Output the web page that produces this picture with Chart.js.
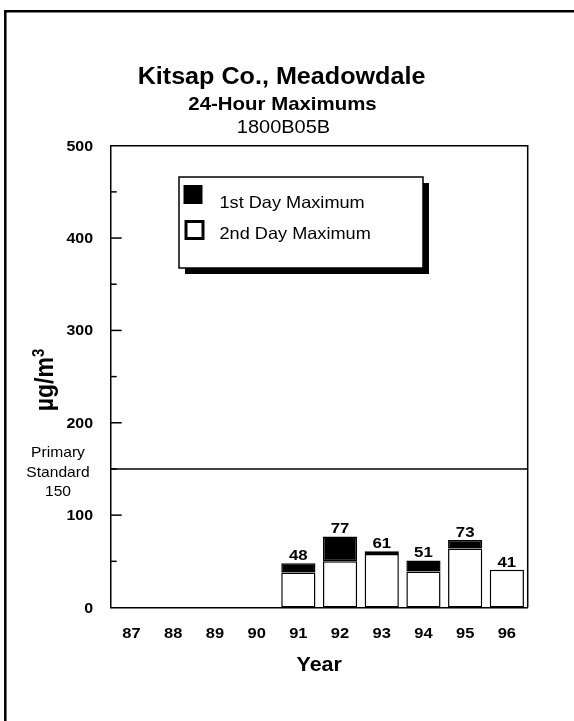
<!DOCTYPE html>
<html>
<head>
<meta charset="utf-8">
<script src="https://cdn.jsdelivr.net/npm/chart.js@4"></script>
<style>
  body { margin: 0; background: #fff; }
  canvas { display: block; }
</style>
</head>
<body>
<canvas id="chart" width="574" height="721"></canvas>
<script>
// dữ liệu
const years = ["87", "88", "89", "90", "91", "92", "93", "94", "95", "96"];
const firstMax = [null, null, null, null, 48, 77, 61, 51, 73, 41];
const secondMax = [null, null, null, null, 38, 50, 58, 39, 64, 41];
const yTicks = [0, 100, 200, 300, 400, 500];
const primaryStandard = 150;

const FONT = "'Liberation Sans', Arial, sans-serif";
const SX = 1.1; // chữ trong bản gốc hơi giãn ngang

// thanh đen: từ giá trị ngày 2 lên giá trị ngày 1
const firstBars = firstMax.map((v, i) => v == null ? null : [secondMax[i], v]);

// vẽ chữ kéo giãn ngang
function wideText(ctx, text, x, y, font, align, baseline, sx) {
  ctx.save();
  ctx.font = font;
  ctx.textAlign = align;
  ctx.textBaseline = baseline;
  ctx.translate(x, y);
  ctx.scale(sx || SX, 1);
  ctx.fillText(text, 0, 0);
  ctx.restore();
}

const decorPlugin = {
  id: "decor",
  beforeDraw(chart) {
    const ctx = chart.ctx;
    ctx.save();
    ctx.strokeStyle = "#000";
    ctx.lineWidth = 2.5;
    ctx.beginPath();
    ctx.moveTo(5.3, 721);
    ctx.lineTo(5.3, 11.2);
    ctx.lineTo(574, 11.2);
    ctx.stroke();
    ctx.restore();
  },
  afterDraw(chart) {
    const ctx = chart.ctx;
    const area = chart.chartArea;
    const x = chart.scales.x;
    const y = chart.scales.y;
    ctx.save();
    ctx.fillStyle = "#000";

    // tiêu đề
    wideText(ctx, "Kitsap Co., Meadowdale", 281.5, 84.3, "bold 23px " + FONT, "center", "alphabetic", 1.093);
    wideText(ctx, "24-Hour Maximums", 282.5, 110, "bold 18.5px " + FONT, "center", "alphabetic", 1.104);
    wideText(ctx, "1800B05B", 283.5, 132.5, "18px " + FONT, "center", "alphabetic", 1.11);

    // khung vùng vẽ (trên + phải)
    ctx.strokeStyle = "#000";
    ctx.lineWidth = 1.5;
    ctx.beginPath();
    ctx.moveTo(area.left, area.top);
    ctx.lineTo(area.right, area.top);
    ctx.lineTo(area.right, area.bottom);
    ctx.stroke();

    // vạch chia hướng vào trong + nhãn trục y
    y.ticks.forEach((t, i) => {
      const py = y.getPixelForTick(i);
      if (t.value > 0 && t.value < 500) {
        const len = t.value % 100 === 0 ? 11 : 6;
        ctx.beginPath();
        ctx.moveTo(area.left, py);
        ctx.lineTo(area.left + len, py);
        ctx.stroke();
      }
      if (yTicks.includes(t.value)) {
        wideText(ctx, String(t.value), 93, py + 1, "bold 14.5px " + FONT, "right", "middle");
      }
    });

    // nhãn trục x
    x.ticks.forEach((t, i) => {
      wideText(ctx, years[i], x.getPixelForTick(i), 633.5, "bold 15px " + FONT, "center", "middle");
    });
    wideText(ctx, "Year", (area.left + area.right) / 2, 665.5, "bold 19.5px " + FONT, "center", "middle");

    // tiêu đề trục y (xoay)
    ctx.save();
    ctx.translate(52.5, 380);
    ctx.rotate(-Math.PI / 2);
    ctx.scale(1, 1.1);
    ctx.font = "bold 23px " + FONT;
    ctx.textBaseline = "alphabetic";
    ctx.textAlign = "left";
    const w1 = ctx.measureText("µg/m").width;
    ctx.font = "bold 15px " + FONT;
    const w2 = ctx.measureText("3").width;
    const sx0 = -(w1 + w2) / 2;
    ctx.font = "bold 23px " + FONT;
    ctx.fillText("µg/m", sx0, 0);
    ctx.font = "bold 15px " + FONT;
    ctx.fillText("3", sx0 + w1, -8);
    ctx.restore();

    // đường tiêu chuẩn
    const sy = y.getPixelForValue(primaryStandard);
    ctx.beginPath();
    ctx.moveTo(area.left, sy);
    ctx.lineTo(area.right, sy);
    ctx.stroke();
    wideText(ctx, "Primary", 58, sy - 16, "14.2px " + FONT, "center", "middle");
    wideText(ctx, "Standard", 58, sy + 4, "14.2px " + FONT, "center", "middle");
    wideText(ctx, String(primaryStandard), 58, sy + 23, "14.2px " + FONT, "center", "middle");

    // nhãn giá trị trên cột
    const meta = chart.getDatasetMeta(0);
    meta.data.forEach((bar, i) => {
      if (firstMax[i] == null) return;
      wideText(ctx, String(firstMax[i]), bar.x, bar.y - 3, "bold 15.3px " + FONT, "center", "alphabetic");
    });

    // chú thích
    const lx = 179, ly = 177, lw = 244, lh = 91;
    ctx.fillStyle = "#000";
    ctx.fillRect(lx + 6, ly + 6, lw, lh);
    ctx.fillStyle = "#fff";
    ctx.fillRect(lx, ly, lw, lh);
    ctx.lineWidth = 1.5;
    ctx.strokeRect(lx, ly, lw, lh);
    ctx.fillStyle = "#000";
    ctx.fillRect(183.5, 185, 19, 19);
    ctx.lineWidth = 3;
    ctx.strokeRect(186, 221.5, 17, 17);
    wideText(ctx, chart.data.datasets[0].label, 219.5, 203, "16.5px " + FONT, "left", "middle");
    wideText(ctx, chart.data.datasets[1].label, 219.5, 234, "16.5px " + FONT, "left", "middle");

    ctx.restore();
  }
};

new Chart(document.getElementById("chart"), {
  type: "bar",
  data: {
    labels: years,
    datasets: [
      {
        label: "1st Day Maximum",
        data: firstBars,
        backgroundColor: "#000",
        borderColor: "#000",
        borderWidth: 1.5,
        borderSkipped: false,
        grouped: false,
        barPercentage: 0.82,
        categoryPercentage: 1
      },
      {
        label: "2nd Day Maximum",
        data: secondMax,
        backgroundColor: "#fff",
        borderColor: "#000",
        borderWidth: 1.5,
        borderSkipped: false,
        grouped: false,
        barPercentage: 0.82,
        categoryPercentage: 1
      }
    ]
  },
  options: {
    responsive: false,
    animation: false,
    devicePixelRatio: 1,
    layout: { padding: { left: 30.7, right: 46.3, top: 145.7, bottom: 33.5 } },
    plugins: { legend: { display: false }, tooltip: { enabled: false } },
    scales: {
      x: {
        afterFit: s => { s.height = 80; },
        grid: { display: false, drawTicks: false },
        border: { display: true, color: "#000", width: 1.5 },
        ticks: { display: false }
      },
      y: {
        min: 0,
        max: 500,
        afterFit: s => { s.width = 80; },
        grid: { display: false, drawTicks: false },
        border: { display: true, color: "#000", width: 1.5 },
        ticks: { display: false, stepSize: 50, autoSkip: false }
      }
    }
  },
  plugins: [decorPlugin]
});
</script>
</body>
</html>
